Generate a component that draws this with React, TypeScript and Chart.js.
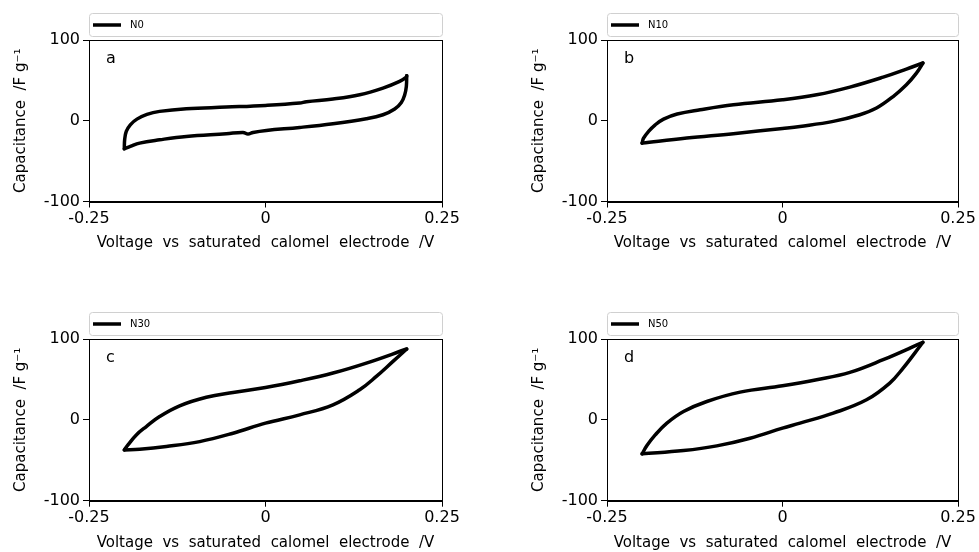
import React, { useEffect, useRef } from 'react';
import { Chart, registerables } from 'chart.js';
Chart.register(...registerables);

// ---- data ----
const seriesNames = ['N0', 'N10', 'N30', 'N50'];
const panelLetters = ['a', 'b', 'c', 'd'];
const xTickValues = [-0.25, 0, 0.25];
const yTickValues = [-100, 0, 100];

// panel a (N0): anodic (upper) and cathodic (lower) branches
const voltageUpA = [-0.2, -0.1995, -0.1972, -0.1915, -0.1821, -0.1679, -0.15, -0.1121, -0.0555, 0, 0.0484, 0.058, 0.0956, 0.1334, 0.1664, 0.19, 0.1995, 0.2];
const capUpA = [-34.7, -23.6, -13.2, -5, 2, 7.9, 11.6, 14.9, 16.9, 19, 21.9, 23.6, 26.9, 32.2, 40.5, 48.8, 54, 55.8];
const voltageDownA = [0.2, 0.1995, 0.1972, 0.1924, 0.183, 0.1664, 0.1428, 0.0956, 0.0484, 0.0012, -0.0177, -0.0248, -0.0318, -0.0555, -0.1121, -0.15, -0.1783, -0.1915, -0.2];
const capDownA = [55.8, 42.6, 32.2, 22.7, 14.5, 7.4, 2.5, -3.7, -8.3, -12, -14.5, -16.5, -14.5, -16.1, -19.4, -23.6, -27.7, -31.8, -34.7];

// panel b (N10)
const voltageUpB = [-0.2, -0.1979, -0.1908, -0.1813, -0.1694, -0.15, -0.1173, -0.07, 0, 0.0486, 0.096, 0.1434, 0.1765, 0.2];
const capUpB = [-27.7, -21.5, -13.2, -5, 2, 8.3, 13.6, 19.8, 26, 32.2, 41.7, 54, 64, 71.5];
const voltageDownB = [0.2, 0.1908, 0.1765, 0.1576, 0.1339, 0.1102, 0.0723, 0.0249, 0, -0.07, -0.1363, -0.2];
const capDownB = [71.5, 59, 44.6, 30, 15.7, 7.4, -0.8, -7, -9.5, -16, -21.5, -27.7];

// panel c (N30)
const voltageUpC = [-0.2, -0.1948, -0.183, -0.1688, -0.15, -0.1216, -0.0838, -0.046, 0, 0.0484, 0.0956, 0.1428, 0.2];
const capUpC = [-37.2, -31, -18.6, -8.3, 4.1, 17.4, 28, 33.9, 40, 48.3, 57.9, 70.2, 87.6];
const voltageDownC = [0.2, 0.1806, 0.157, 0.1334, 0.0956, 0.0484, 0, -0.046, -0.0932, -0.1405, -0.1782, -0.2];
const capDownC = [87.6, 72.3, 53.7, 37.2, 18.6, 6.2, -4.1, -16.5, -26.9, -33, -36.4, -37.2];

// panel d (N50)
const voltageUpD = [-0.2, -0.1931, -0.1813, -0.1647, -0.141, -0.1078, -0.0604, 0, 0.0486, 0.096, 0.1434, 0.2];
const capUpD = [-42, -31.8, -18.6, -4.1, 10.3, 22.7, 34.3, 42.1, 49.6, 58.7, 74.4, 95.9];
const voltageDownD = [0.2, 0.1884, 0.1718, 0.1528, 0.1197, 0.0723, 0.0249, 0, -0.0462, -0.0936, -0.141, -0.2];
const capDownD = [95.9, 82.6, 64, 45.5, 24.8, 8.3, -4.1, -10.3, -22.7, -32.2, -38, -42];

const branches = [
  [[voltageUpA, capUpA], [voltageDownA, capDownA]],
  [[voltageUpB, capUpB], [voltageDownB, capDownB]],
  [[voltageUpC, capUpC], [voltageDownC, capDownC]],
  [[voltageUpD, capUpD], [voltageDownD, capDownD]],
];

const xTitle = 'Voltage  vs  saturated  calomel  electrode  /V';
const yTitle = 'Capacitance  /F g\u207B\u00B9';

// ---- layout (page pixels) ----
const FONT = '"DejaVu Sans", sans-serif';
const Y_AXIS_W = 89;
const X_AXIS_H = 51;
const panels = [
  { cl: 0, ct: 0, w: 518, h: 276, l: 89, t: 40, r: 442, b: 201.5 },
  { cl: 518, ct: 0, w: 461, h: 276, l: 607, t: 40, r: 958, b: 201.5 },
  { cl: 0, ct: 299, w: 518, h: 253, l: 89, t: 339, r: 442, b: 500.7 },
  { cl: 518, ct: 299, w: 461, h: 253, l: 607, t: 339, r: 958, b: 500.7 },
];

const decorPlugin = {
  id: 'decor',
  afterDraw(chart: any, _args: any, opts: any) {
    const { ctx, chartArea: a } = chart;
    ctx.save();
    ctx.strokeStyle = '#000';
    ctx.lineWidth = 1;
    const L = Math.round(a.left) + 0.5, T = Math.round(a.top) + 0.5;
    const R = Math.round(a.right) + 0.5, B = Math.round(a.bottom) + 0.5;
    ctx.strokeRect(L, T, R - L, B - T);
    ctx.fillStyle = '#000';
    ctx.font = '16px ' + FONT;
    ctx.textBaseline = 'alphabetic';
    ctx.textAlign = 'left';
    ctx.fillText(opts.letter, a.left + 17, a.top + 23);
    const top = a.top - 27, h = 23;
    ctx.beginPath();
    ctx.roundRect(L, top + 0.5, R - L, h, 3);
    ctx.fillStyle = '#fff';
    ctx.fill();
    ctx.strokeStyle = '#d0d0d0';
    ctx.stroke();
    const ly = top + h / 2 + 0.5;
    ctx.beginPath();
    ctx.moveTo(a.left + 4, ly);
    ctx.lineTo(a.left + 32, ly);
    ctx.strokeStyle = '#000';
    ctx.lineWidth = 3.5;
    ctx.stroke();
    ctx.fillStyle = '#000';
    ctx.font = '10px ' + FONT;
    ctx.textBaseline = 'middle';
    ctx.fillText(chart.data.datasets[0].label, a.left + 41, ly);
    ctx.restore();
  },
};

function fmt(v: number) {
  if (Math.abs(v) < 1e-9) return '0';
  return String(v);
}

function Panel({ index }: { index: number }) {
  const ref = useRef<HTMLCanvasElement | null>(null);
  const p = panels[index];
  useEffect(() => {
    const canvas = ref.current;
    if (!canvas) return;
    const datasets = branches[index].map(([vs, cs]) => ({
      label: seriesNames[index],
      data: vs.map((v, i) => ({ x: v, y: cs[i] })),
      showLine: true,
      pointRadius: 0,
      borderColor: '#000',
      borderWidth: 3.5,
      borderCapStyle: 'round' as const,
      borderJoinStyle: 'round' as const,
      tension: 0.4,
      fill: false,
    }));
    const chart = new Chart(canvas, {
      type: 'scatter',
      data: { datasets },
      options: {
        responsive: false,
        animation: false,
        layout: {
          padding: {
            left: p.l - p.cl - Y_AXIS_W,
            top: p.t - p.ct,
            right: p.cl + p.w - p.r,
            bottom: Math.max(0, p.ct + p.h - p.b - X_AXIS_H),
          },
        },
        plugins: {
          legend: { display: false },
          tooltip: { enabled: false },
          decor: { letter: panelLetters[index] },
        } as any,
        scales: {
          x: {
            type: 'linear',
            min: xTickValues[0],
            max: xTickValues[xTickValues.length - 1],
            afterBuildTicks: (s: any) => {
              s.ticks = xTickValues.map((v) => ({ value: v }));
            },
            afterFit: (s: any) => {
              s.height = X_AXIS_H;
            },
            ticks: {
              callback: (v: any) => fmt(Number(v)),
              font: { family: FONT, size: 16 },
              color: '#000',
              padding: 2,
              maxRotation: 0,
              autoSkip: false,
            },
            grid: { drawOnChartArea: false, drawTicks: true, tickLength: 6, color: '#000' },
            border: { color: '#000', width: 1 },
            title: {
              display: true,
              text: xTitle,
              font: { family: FONT, size: 15 },
              color: '#000',
              padding: { top: 0, bottom: 0 },
            },
          },
          y: {
            type: 'linear',
            min: yTickValues[0],
            max: yTickValues[yTickValues.length - 1],
            afterBuildTicks: (s: any) => {
              s.ticks = yTickValues.map((v) => ({ value: v }));
            },
            afterFit: (s: any) => {
              s.width = Y_AXIS_W;
            },
            ticks: {
              callback: (v: any) => fmt(Number(v)),
              font: { family: FONT, size: 16 },
              color: '#000',
              padding: 3,
              autoSkip: false,
            },
            grid: { drawOnChartArea: false, drawTicks: true, tickLength: 6, color: '#000' },
            border: { color: '#000', width: 1 },
            title: {
              display: true,
              text: yTitle,
              font: { family: FONT, size: 15 },
              color: '#000',
              padding: { top: 12, bottom: 0 },
            },
          },
        },
      },
      plugins: [decorPlugin],
    });
    return () => chart.destroy();
  }, [index]);
  return (
    <canvas
      ref={ref}
      width={p.w}
      height={p.h}
      style={{ position: 'absolute', left: p.cl, top: p.ct, width: p.w, height: p.h }}
    />
  );
}

export default function App() {
  return (
    <div
      style={{
        position: 'fixed',
        left: 0,
        top: 0,
        width: 979,
        height: 552,
        background: '#fff',
        overflow: 'hidden',
      }}
    >
      {[0, 1, 2, 3].map((i) => (
        <Panel key={i} index={i} />
      ))}
    </div>
  );
}
